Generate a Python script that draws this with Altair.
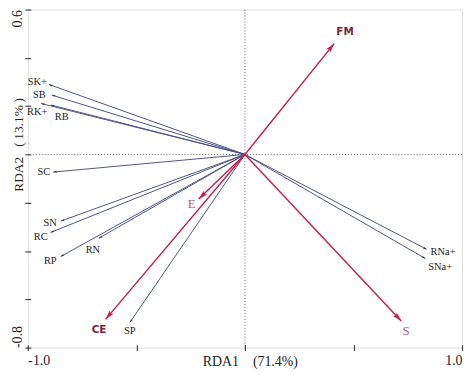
import altair as alt
import pandas as pd
import numpy as np

# ---------------- data ----------------
species = ["SK+", "SB", "RK+", "RB", "SC", "SN", "RC", "RN", "RP", "SP", "RNa+", "SNa+"]
sp_rda1 = [-0.903, -0.890, -0.939, -0.894, -0.883, -0.848, -0.895, -0.673, -0.849, -0.530, 0.837, 0.831]
sp_rda2 = [0.290, 0.246, 0.211, 0.205, -0.073, -0.276, -0.323, -0.347, -0.423, -0.696, -0.393, -0.431]

env = ["FM", "E", "CE", "S"]
env_rda1 = [0.411, -0.213, -0.642, 0.720]
env_rda2 = [0.459, -0.185, -0.683, -0.690]

x_ticks = [-1.0, -0.5, 0.0, 0.5, 1.0]
y_ticks = [-0.8, -0.6, -0.4, -0.2, 0.0, 0.2, 0.4, 0.6]
x_title = "RDA1\u00a0\u00a0\u00a0\u00a0(71.4%)"
y_title = "RDA2\u00a0\u00a0\u00a0(\u200913.1%\u2009)"

# ---------------- layout / style ----------------
W, H = 438, 341
XD, YD = [-1.0, 1.0], [-0.8, 0.6]
SX = W / (XD[1] - XD[0])
SY = H / (YD[1] - YD[0])

# label placement: (align, dx px, dy px) relative to the arrow tip
LABEL_POS = {
    "SK+": ("right", -2, -2), "SB": ("right", -6, 0), "RK+": ("center", -4, 9),
    "RB": ("left", 4, 12), "SC": ("right", -3, 0), "SN": ("right", -4, 2),
    "RC": ("right", -3, 4.5), "RN": ("center", -6, 12), "RP": ("right", -4, 4),
    "SP": ("center", 0, 8.5), "RNa+": ("left", 4, 3), "SNa+": ("left", 3, 9),
    "FM": ("center", 11, -12), "E": ("center", -7, 5), "CE": ("center", -6.5, 11),
    "S": ("center", 5, 10),
}

SERIF = "Liberation Serif"
BLUE = "#4b5585"
RED = "#c41c4a"


def build(names, xs, ys, group):
    d = pd.DataFrame({"name": names, "x": xs, "y": ys})
    d["x0"] = 0.0
    d["y0"] = 0.0
    d["angle"] = (np.degrees(np.arctan2(d["x"] * SX, d["y"] * SY)) + 360) % 360
    d["align"] = [LABEL_POS[n][0] for n in names]
    d["lx"] = d["x"] + np.array([LABEL_POS[n][1] for n in names]) / SX
    d["ly"] = d["y"] - np.array([LABEL_POS[n][2] for n in names]) / SY
    d["group"] = group
    return d


sp = build(species, sp_rda1, sp_rda2, "sp")
ev = build(env, env_rda1, env_rda2, "env")

xscale = alt.Scale(domain=XD, nice=False, zero=False)
yscale = alt.Scale(domain=YD, nice=False, zero=False)

xaxis = alt.Axis(
    values=x_ticks,
    labelExpr="datum.value == -1 ? '-1.0' : (datum.value == 1 ? '1.0' : '')",
    labelFlush=True, labelOverlap=False, grid=False, domain=False,
    offset=-3, tickSize=6, tickColor="#444", tickWidth=1.2,
    labelFont=SERIF, labelFontSize=14, labelColor="#222", labelPadding=3,
    title=x_title, titleFont=SERIF, titleFontSize=14, titleFontWeight="normal",
    titleColor="#222", titleX=224, titleY=17, titleBaseline="middle", titleAlign="center",
)
yaxis = alt.Axis(
    values=y_ticks,
    labelExpr="datum.value == -0.8 ? '-0.8' : (datum.value == 0.6 ? '0.6' : '')",
    labelOverlap=False, grid=False, domain=False,
    offset=-3, tickSize=6, tickColor="#444", tickWidth=1.2,
    labelAngle=270,
    labelAlign={"condition": {"test": "datum.value > 0", "value": "right"}, "value": "left"},
    labelBaseline="bottom",
    labelFont=SERIF, labelFontSize=14, labelColor="#222", labelPadding=0,
    title=y_title, titleFont=SERIF, titleFontSize=13.5, titleFontWeight="normal",
    titleColor="#222", titleAngle=270, titleX=-12, titleY=136,
    titleBaseline="middle", titleAlign="center",
)


def X(f):
    return alt.X(f, type="quantitative", scale=xscale, axis=xaxis, title=x_title)


def Y(f):
    return alt.Y(f, type="quantitative", scale=yscale, axis=yaxis, title=y_title)


zero = pd.DataFrame({"x": [0.0], "y": [0.0]})

vline = alt.Chart(zero).mark_rule(color="#666", strokeDash=[1, 2], strokeWidth=1).encode(x=X("x"))
hline = alt.Chart(zero).mark_rule(color="#666", strokeDash=[1, 2], strokeWidth=1).encode(y=Y("y"))

sp_lines = alt.Chart(sp).mark_rule(color=BLUE, strokeWidth=1).encode(
    x=X("x0"), y=Y("y0"), x2="x", y2="y")
ev_lines = alt.Chart(ev).mark_rule(color=RED, strokeWidth=1.4).encode(
    x=X("x0"), y=Y("y0"), x2="x", y2="y")

HEAD = "M0,0 L0.55,2 L0,1.6 L-0.55,2 Z"
sp_heads = alt.Chart(sp).mark_point(shape=HEAD, filled=True, size=14, color="#2a3050", opacity=1).encode(
    x=X("x"), y=Y("y"), angle=alt.Angle("angle:Q", scale=None))
ev_heads = alt.Chart(ev).mark_point(shape=HEAD, filled=True, size=90, color=RED, opacity=1).encode(
    x=X("x"), y=Y("y"), angle=alt.Angle("angle:Q", scale=None))

layers = [vline, hline, sp_lines, ev_lines, sp_heads, ev_heads]

for al in ["left", "center", "right"]:
    sub = sp[sp["align"] == al]
    if len(sub):
        layers.append(
            alt.Chart(sub).mark_text(font=SERIF, fontSize=10.5, color="#222", align=al, baseline="middle")
            .encode(x=X("lx"), y=Y("ly"), text="name:N"))

bold = ev[ev["name"].isin(["FM", "CE"])]
light = ev[ev["name"].isin(["E", "S"])]
layers.append(
    alt.Chart(bold).mark_text(font="DejaVu Sans", fontSize=10.5, fontWeight="bold", color="#7d1e3c",
                              align="center", baseline="middle")
    .encode(x=X("lx"), y=Y("ly"), text="name:N"))
layers.append(
    alt.Chart(light).mark_text(font=SERIF, fontSize=13, color="#b85a72", align="center", baseline="middle")
    .encode(x=X("lx"), y=Y("ly"), text="name:N"))

chart = alt.layer(*layers).properties(
    width=W, height=H, autosize="none",
    padding={"left": 20, "top": 0, "right": 4, "bottom": 22},
).configure_view(stroke="#5a5a5a", strokeWidth=1.6).configure(background="white")

chart.save("out.html", embed_options={"renderer": "svg", "actions": False})
